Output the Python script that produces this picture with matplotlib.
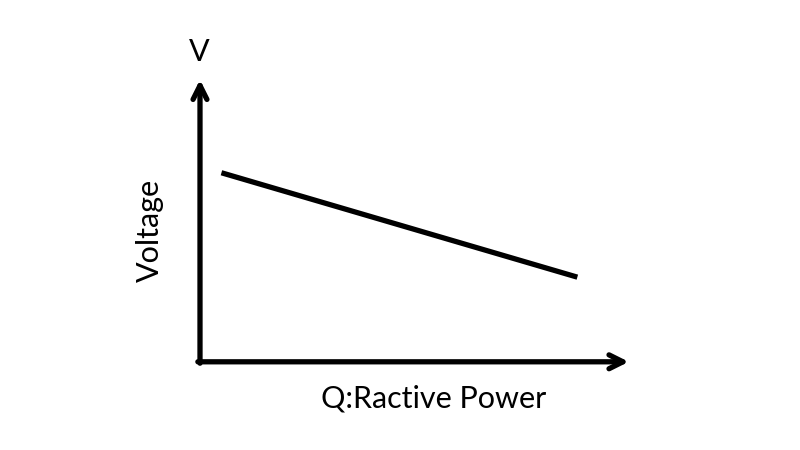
import matplotlib.pyplot as plt

plt.rcParams['font.family'] = ['Lato', 'DejaVu Sans']

# reactive power vs voltage (arbitrary units)
reactive_power = [0.05, 0.88]
voltage = [0.67, 0.30]

fig = plt.figure(figsize=(8, 4.5), dpi=100)
ax = fig.add_axes([0.25, 0.196, 0.536, 0.627])
ax.set_xlim(0, 1)
ax.set_ylim(0, 1)
ax.axis('off')

# axes drawn as arrows
arrow = dict(arrowstyle='->', lw=3.8, color='black', mutation_scale=25,
             shrinkA=0, shrinkB=0, capstyle='round')
ax.annotate('', xy=(0, 1), xytext=(0, -0.005), xycoords='axes fraction', arrowprops=arrow)
ax.annotate('', xy=(1, 0), xytext=(-0.005, 0), xycoords='axes fraction', arrowprops=arrow)

ax.plot(reactive_power, voltage, color='black', lw=3.8, solid_capstyle='butt')

fig.text(199 / 800, 1 - 52 / 450, 'V', fontsize=22, ha='center', va='center')
fig.text(150 / 800, 1 - 230 / 450, 'Voltage', fontsize=22, rotation=90, ha='center', va='center')
fig.text(434 / 800, 1 - 398 / 450, 'Q:Ractive Power', fontsize=22, ha='center', va='center')

fig.savefig('out.png', dpi=100)
